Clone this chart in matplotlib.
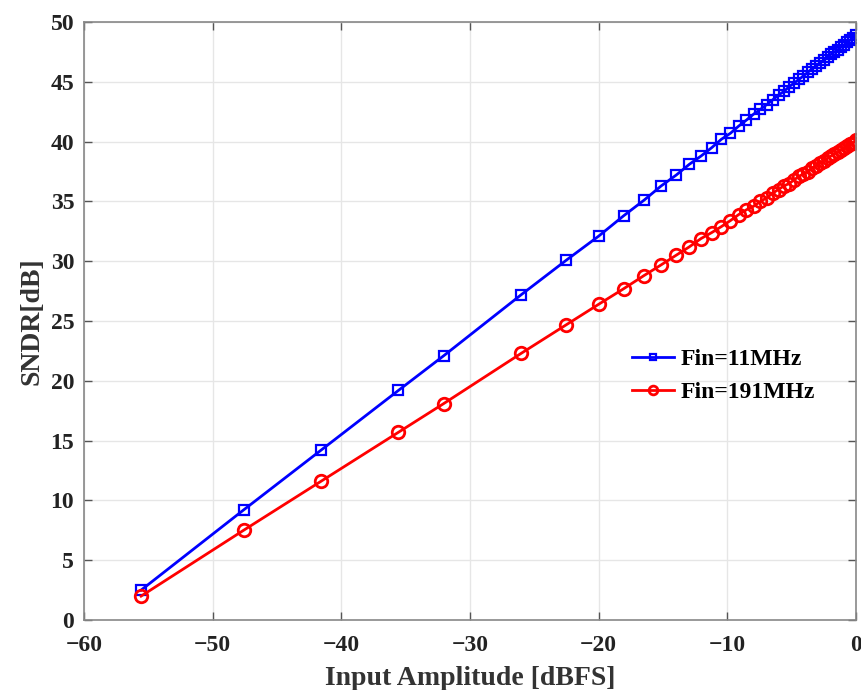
import matplotlib
matplotlib.use("Agg")
import matplotlib.pyplot as plt

# input amplitude [dBFS]
amp_dbfs = [-55.56, -47.60, -41.58, -35.56, -32.04, -26.02, -22.50, -20.00,
            -18.06, -16.48, -15.14, -13.98, -12.96, -12.04, -11.21, -10.46,
            -9.76, -9.12, -8.52, -7.96, -7.43, -6.94, -6.47, -6.02,
            -5.60, -5.19, -4.81, -4.44, -4.08, -3.74, -3.41, -3.10,
            -2.79, -2.50, -2.21, -1.94, -1.67, -1.41, -1.16, -0.92,
            -0.68, -0.45, -0.22, 0.00]

# SNDR [dB], Fin=11MHz
sndr_11 = [2.5, 9.2, 14.2, 19.2, 22.1, 27.2, 30.1, 32.1,
           33.8, 35.1, 36.3, 37.2, 38.1, 38.8, 39.5, 40.2,
           40.7, 41.3, 41.8, 42.3, 42.7, 43.1, 43.5, 43.9,
           44.2, 44.6, 44.9, 45.2, 45.5, 45.8, 46.1, 46.3,
           46.6, 46.8, 47.1, 47.3, 47.5, 47.7, 47.9, 48.1,
           48.3, 48.5, 48.7, 48.9]

# SNDR [dB], Fin=191MHz
sndr_191 = [2.0, 7.5, 11.6, 15.7, 18.1, 22.3, 24.7, 26.4,
            27.7, 28.8, 29.7, 30.5, 31.2, 31.9, 32.4, 32.9,
            33.4, 33.9, 34.3, 34.6, 35.0, 35.3, 35.7, 36.0,
            36.3, 36.5, 36.8, 37.1, 37.3, 37.5, 37.8, 38.0,
            38.2, 38.4, 38.6, 38.8, 39.0, 39.1, 39.3, 39.5,
            39.6, 39.8, 39.9, 40.1]

x_ticks = [-60, -50, -40, -30, -20, -10, 0]
y_ticks = [0, 5, 10, 15, 20, 25, 30, 35, 40, 45, 50]

plt.rcParams["font.family"] = ["Liberation Serif", "DejaVu Serif"]
plt.rcParams["font.weight"] = "bold"

fig = plt.figure(figsize=(8.62, 6.9), dpi=100)
ax = fig.add_axes([0.0974, 0.1014, 0.8956, 0.8666])

ax.plot(amp_dbfs, sndr_11, color="#0000ff", lw=2, marker="s", ms=7,
        mfc="none", mew=1.6, label="Fin=11MHz")
ax.plot(amp_dbfs, sndr_191, color="#ff0000", lw=2, marker="o", ms=9,
        mfc="none", mew=2, label="Fin=191MHz")

ax.set_xlim(-60, 0)
ax.set_ylim(0, 50)
ax.set_xticks(x_ticks)
ax.set_yticks(y_ticks)
ax.set_xticklabels(["\u2212%d" % -v if v < 0 else "%d" % v for v in x_ticks])
ax.grid(True, color="#e6e6e6", lw=1)
ax.set_axisbelow(True)
ax.tick_params(direction="in", top=True, right=True, length=6, width=1,
               colors="#555555", labelcolor="#222222", labelsize=17)
ax.tick_params(axis="x", pad=11)
ax.tick_params(axis="y", pad=7)
for s in ax.spines.values():
    s.set_color("#888888")
    s.set_linewidth(1.2)

ax.set_xlabel("Input Amplitude [dBFS]", fontsize=20, fontweight="bold",
              color="#333333", labelpad=7)
ax.set_ylabel("SNDR[dB]", fontsize=20, fontweight="bold", color="#333333",
              labelpad=4)

ax.legend(loc="center left", bbox_to_anchor=(0.682, 0.408), frameon=False,
          handlelength=1.8, handletextpad=0.25, labelspacing=0.5,
          markerscale=0.7, prop={"weight": "bold", "size": 17})

fig.savefig("out.png", dpi=100)
